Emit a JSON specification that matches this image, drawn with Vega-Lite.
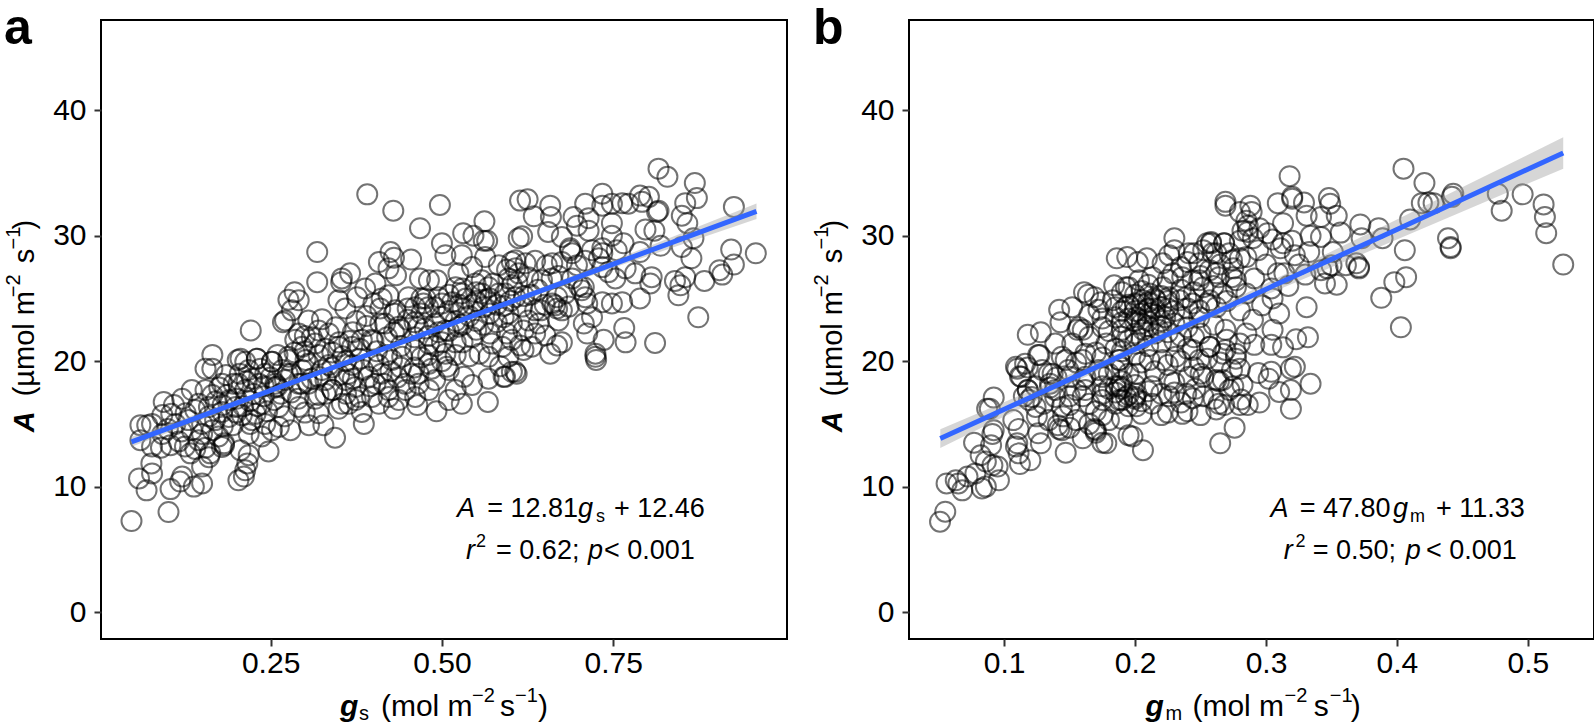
{"$schema":"https://vega.github.io/schema/vega-lite/v6.json","background":"white","padding":{"left":2,"top":2,"right":2,"bottom":0},"bounds":"flush","spacing":122,
"config":{"view":{"stroke":"black","strokeWidth":2},"font":"Liberation Sans","axis":{"grid":false,"domain":false,"tickColor":"#333333","tickWidth":2,"tickSize":7,"labelColor":"black","labelFont":"Liberation Sans","labelFontSize":30,"title":null}},
"datasets":{
"fa":[{"x":0.047,"y":13.57,"lo":13.17,"hi":13.97},{"x":0.25,"y":17.66,"lo":17.44,"hi":17.88},{"x":0.5,"y":22.7,"lo":22.53,"hi":22.87},{"x":0.75,"y":27.74,"lo":27.44,"hi":28.04},{"x":0.959,"y":31.95,"lo":31.33,"hi":32.57}],
"fb":[{"x":0.0512,"y":13.83,"lo":13.08,"hi":14.58},{"x":0.15,"y":18.55,"lo":18.15,"hi":18.95},{"x":0.2,"y":20.95,"lo":20.67,"hi":21.23},{"x":0.25,"y":23.35,"lo":23.05,"hi":23.65},{"x":0.3,"y":25.74,"lo":25.29,"hi":26.19},{"x":0.4,"y":30.5,"lo":29.7,"hi":31.3},{"x":0.527,"y":36.6,"lo":35.35,"hi":37.85}],
"pa":[{"x":0.816,"y":35.35},{"x":0.829,"y":34.7},{"x":0.869,"y":34.2},{"x":0.872,"y":33.0},{"x":0.855,"y":32.6},{"x":0.85,"y":31.6},{"x":0.858,"y":31.0},{"x":0.926,"y":32.3},{"x":0.922,"y":28.9},{"x":0.958,"y":28.6},{"x":0.926,"y":27.7},{"x":0.905,"y":27.25},{"x":0.909,"y":26.9},{"x":0.883,"y":26.4},{"x":0.855,"y":26.7},{"x":0.84,"y":26.4},{"x":0.848,"y":26.05},{"x":0.845,"y":25.25},{"x":0.874,"y":23.5},{"x":0.811,"y":21.45},{"x":0.768,"y":21.5},{"x":0.766,"y":22.65},{"x":0.736,"y":21.7},{"x":0.724,"y":20.6},{"x":0.725,"y":20.1},{"x":0.724,"y":20.35},{"x":0.789,"y":25.0},{"x":0.804,"y":26.2},{"x":0.806,"y":26.7},{"x":0.864,"y":28.2},{"x":0.85,"y":29.1},{"x":0.867,"y":29.8},{"x":0.819,"y":29.2},{"x":0.81,"y":30.4},{"x":0.797,"y":30.5},{"x":0.814,"y":31.9},{"x":0.802,"y":33.1},{"x":0.789,"y":33.2},{"x":0.763,"y":32.6},{"x":0.734,"y":33.35},{"x":0.709,"y":32.55},{"x":0.734,"y":32.4},{"x":0.748,"y":32.55},{"x":0.772,"y":32.55},{"x":0.792,"y":32.7},{"x":0.816,"y":32.0},{"x":0.625,"y":32.9},{"x":0.658,"y":32.4},{"x":0.634,"y":31.55},{"x":0.659,"y":31.5},{"x":0.617,"y":29.95},{"x":0.655,"y":30.3},{"x":0.692,"y":31.5},{"x":0.714,"y":31.4},{"x":0.697,"y":30.8},{"x":0.748,"y":31.0},{"x":0.675,"y":29.9},{"x":0.714,"y":30.4},{"x":0.748,"y":30.0},{"x":0.765,"y":29.4},{"x":0.789,"y":28.7},{"x":0.687,"y":29.0},{"x":0.687,"y":28.85},{"x":0.69,"y":28.6},{"x":0.734,"y":29.0},{"x":0.734,"y":28.6},{"x":0.719,"y":28.85},{"x":0.729,"y":28.2},{"x":0.755,"y":28.85},{"x":0.661,"y":27.8},{"x":0.675,"y":27.9},{"x":0.697,"y":27.65},{"x":0.768,"y":27.4},{"x":0.782,"y":27.0},{"x":0.753,"y":26.6},{"x":0.734,"y":27.5},{"x":0.743,"y":27.1},{"x":0.709,"y":28.0},{"x":0.653,"y":27.65},{"x":0.602,"y":27.9},{"x":0.622,"y":27.8},{"x":0.636,"y":28.0},{"x":0.612,"y":27.0},{"x":0.626,"y":26.7},{"x":0.597,"y":26.6},{"x":0.607,"y":27.4},{"x":0.646,"y":26.45},{"x":0.668,"y":25.1},{"x":0.665,"y":24.45},{"x":0.668,"y":24.2},{"x":0.661,"y":24.6},{"x":0.675,"y":24.05},{"x":0.707,"y":25.9},{"x":0.709,"y":25.1},{"x":0.712,"y":24.6},{"x":0.734,"y":24.7},{"x":0.748,"y":24.6},{"x":0.763,"y":24.7},{"x":0.685,"y":24.35},{"x":0.704,"y":25.65},{"x":0.636,"y":24.05},{"x":0.617,"y":24.35},{"x":0.597,"y":23.8},{"x":0.719,"y":23.5},{"x":0.707,"y":23.0},{"x":0.712,"y":22.2},{"x":0.675,"y":21.5},{"x":0.651,"y":22.05},{"x":0.636,"y":22.2},{"x":0.614,"y":21.25},{"x":0.668,"y":21.25},{"x":0.658,"y":20.6},{"x":0.631,"y":21.15},{"x":0.619,"y":20.9},{"x":0.597,"y":20.35},{"x":0.609,"y":19.0},{"x":0.592,"y":18.75},{"x":0.602,"y":19.15},{"x":0.644,"y":24.05},{"x":0.592,"y":25.4},{"x":0.607,"y":25.1},{"x":0.626,"y":23.25},{"x":0.602,"y":23.0},{"x":0.641,"y":23.0},{"x":0.67,"y":23.25},{"x":0.595,"y":22.2},{"x":0.619,"y":22.45},
{"x":0.391,"y":33.3},{"x":0.429,"y":32.0},{"x":0.497,"y":32.45},{"x":0.468,"y":30.6},{"x":0.318,"y":28.7},{"x":0.318,"y":26.3},{"x":0.5,"y":29.4},{"x":0.562,"y":31.15},{"x":0.531,"y":30.2},{"x":0.546,"y":30.0},{"x":0.561,"y":29.6},{"x":0.566,"y":29.6},{"x":0.505,"y":28.45},{"x":0.529,"y":28.45},{"x":0.425,"y":28.7},{"x":0.43,"y":28.25},{"x":0.408,"y":27.9},{"x":0.455,"y":28.1},{"x":0.422,"y":27.4},{"x":0.433,"y":26.85},{"x":0.366,"y":27.0},{"x":0.353,"y":26.3},{"x":0.354,"y":26.6},{"x":0.285,"y":25.5},{"x":0.276,"y":24.9},{"x":0.291,"y":24.85},{"x":0.281,"y":24.05},{"x":0.268,"y":23.1},{"x":0.271,"y":23.25},{"x":0.221,"y":22.45},{"x":0.325,"y":23.35},{"x":0.305,"y":23.25},{"x":0.349,"y":24.85},{"x":0.359,"y":24.2},{"x":0.376,"y":25.1},{"x":0.388,"y":25.8},{"x":0.403,"y":26.2},{"x":0.412,"y":25.0},{"x":0.4,"y":24.6},{"x":0.422,"y":25.25},{"x":0.451,"y":25.1},{"x":0.468,"y":26.6},{"x":0.481,"y":26.45},{"x":0.493,"y":26.45},{"x":0.524,"y":27.0},{"x":0.544,"y":27.5},{"x":0.563,"y":28.3},{"x":0.583,"y":27.65},{"x":0.607,"y":28.05},{"x":0.614,"y":32.8},{"x":0.612,"y":29.8},{"x":0.476,"y":25.0},{"x":0.495,"y":25.1},{"x":0.473,"y":24.6},{"x":0.558,"y":26.45},{"x":0.568,"y":25.9},{"x":0.549,"y":26.2},{"x":0.558,"y":25.4},{"x":0.529,"y":25.4},{"x":0.52,"y":25.9},{"x":0.583,"y":25.4},{"x":0.602,"y":26.05},{"x":0.461,"y":24.3},{"x":0.432,"y":24.05},{"x":0.417,"y":23.0},{"x":0.437,"y":22.75},{"x":0.383,"y":21.7},{"x":0.369,"y":21.15},{"x":0.398,"y":21.7},{"x":0.349,"y":21.15},{"x":0.335,"y":22.2},{"x":0.32,"y":22.45},{"x":0.291,"y":22.2},{"x":0.286,"y":21.7},{"x":0.31,"y":21.9},{"x":0.296,"y":21.15},{"x":0.276,"y":20.1},{"x":0.252,"y":19.95},{"x":0.23,"y":20.2},{"x":0.213,"y":19.95},{"x":0.305,"y":19.8},{"x":0.325,"y":19.3},{"x":0.296,"y":19.3},{"x":0.305,"y":18.2},{"x":0.271,"y":18.5},{"x":0.242,"y":19.0},{"x":0.223,"y":18.6},{"x":0.257,"y":17.95},{"x":0.34,"y":17.7},{"x":0.33,"y":17.4},{"x":0.364,"y":19.0},{"x":0.374,"y":17.95},{"x":0.393,"y":18.75},{"x":0.412,"y":19.0},{"x":0.427,"y":20.1},{"x":0.442,"y":20.35},{"x":0.461,"y":20.9},{"x":0.481,"y":21.4},{"x":0.505,"y":22.45},{"x":0.5,"y":23.55},{"x":0.524,"y":22.75},{"x":0.544,"y":21.9},{"x":0.573,"y":21.4},{"x":0.568,"y":20.35},{"x":0.588,"y":21.15},{"x":0.602,"y":21.7},{"x":0.507,"y":19.55},{"x":0.51,"y":19.3},{"x":0.532,"y":18.75},{"x":0.568,"y":18.6},{"x":0.544,"y":18.1},{"x":0.59,"y":18.75},{"x":0.607,"y":19.15},{"x":0.52,"y":17.7},{"x":0.567,"y":16.75},{"x":0.49,"y":18.5},{"x":0.466,"y":19.0},{"x":0.481,"y":17.7},{"x":0.446,"y":18.2},{"x":0.422,"y":17.7},{"x":0.398,"y":17.15},{"x":0.374,"y":16.9},{"x":0.354,"y":16.6},{"x":0.437,"y":16.9},{"x":0.461,"y":17.15},{"x":0.51,"y":16.9},{"x":0.529,"y":16.6},
{"x":0.047,"y":7.25},{"x":0.101,"y":7.97},{"x":0.058,"y":10.65},{"x":0.077,"y":11.05},{"x":0.069,"y":9.7},{"x":0.076,"y":11.85},{"x":0.104,"y":9.8},{"x":0.118,"y":10.4},{"x":0.121,"y":10.8},{"x":0.138,"y":10.0},{"x":0.15,"y":10.25},{"x":0.133,"y":12.65},{"x":0.15,"y":11.6},{"x":0.16,"y":12.35},{"x":0.203,"y":10.5},{"x":0.211,"y":10.8},{"x":0.213,"y":11.3},{"x":0.216,"y":11.85},{"x":0.218,"y":12.5},{"x":0.247,"y":12.8},{"x":0.206,"y":12.9},{"x":0.182,"y":13.3},{"x":0.179,"y":13.15},{"x":0.104,"y":13.3},{"x":0.077,"y":13.2},{"x":0.06,"y":13.7},{"x":0.092,"y":14.2},{"x":0.116,"y":13.6},{"x":0.06,"y":14.9},{"x":0.077,"y":15.0},{"x":0.07,"y":14.9},{"x":0.094,"y":16.75},{"x":0.109,"y":16.5},{"x":0.092,"y":15.7},{"x":0.121,"y":17.0},{"x":0.135,"y":17.7},{"x":0.155,"y":17.7},{"x":0.165,"y":20.5},{"x":0.155,"y":19.4},{"x":0.165,"y":19.4},{"x":0.202,"y":20.1},{"x":0.206,"y":20.2},{"x":0.23,"y":20.2},{"x":0.252,"y":19.95},{"x":0.203,"y":18.2},{"x":0.196,"y":18.2},{"x":0.179,"y":18.2},{"x":0.165,"y":17.3},{"x":0.14,"y":16.1},{"x":0.16,"y":16.35},{"x":0.126,"y":15.85},{"x":0.111,"y":15.0},{"x":0.135,"y":14.5},{"x":0.15,"y":15.0},{"x":0.169,"y":15.3},{"x":0.189,"y":15.55},{"x":0.208,"y":15.7},{"x":0.223,"y":15.3},{"x":0.242,"y":15.0},{"x":0.252,"y":14.5},{"x":0.279,"y":14.5},{"x":0.306,"y":14.9},{"x":0.327,"y":14.9},{"x":0.344,"y":13.9},{"x":0.386,"y":15.0},{"x":0.492,"y":16.0},{"x":0.464,"y":16.5},{"x":0.43,"y":16.2},{"x":0.408,"y":16.6},{"x":0.383,"y":15.95},{"x":0.364,"y":16.6},{"x":0.349,"y":16.2},{"x":0.32,"y":15.85},{"x":0.315,"y":17.0},{"x":0.291,"y":16.35},{"x":0.262,"y":16.35},{"x":0.237,"y":16.6},{"x":0.213,"y":17.7},{"x":0.233,"y":18.2},{"x":0.257,"y":18.2},{"x":0.276,"y":20.35},{"x":0.291,"y":18.2},{"x":0.32,"y":18.75},{"x":0.34,"y":17.7},{"x":0.359,"y":18.5},{"x":0.379,"y":17.15},{"x":0.403,"y":18.2},{"x":0.422,"y":17.15},{"x":0.447,"y":17.7},{"x":0.466,"y":18.2},{"x":0.481,"y":19.8},{"x":0.408,"y":19.7},{"x":0.369,"y":19.7},{"x":0.335,"y":19.7},{"x":0.301,"y":20.1},{"x":0.267,"y":19.3},{"x":0.218,"y":19.3},{"x":0.186,"y":17.3},{"x":0.179,"y":15.95},{"x":0.199,"y":16.35},{"x":0.174,"y":14.0},{"x":0.182,"y":13.45},{"x":0.145,"y":13.7},{"x":0.162,"y":12.65},{"x":0.218,"y":14.2},{"x":0.237,"y":14.0},{"x":0.262,"y":14.75},{"x":0.228,"y":15.8},
{"x":0.44,"y":22.5},{"x":0.46,"y":23.1},{"x":0.47,"y":23.8},{"x":0.48,"y":22.0},{"x":0.49,"y":23.0},{"x":0.5,"y":21.5},{"x":0.51,"y":24.0},{"x":0.52,"y":23.2},{"x":0.53,"y":24.2},{"x":0.54,"y":23.6},{"x":0.55,"y":24.8},{"x":0.56,"y":24.3},{"x":0.57,"y":23.8},{"x":0.58,"y":24.5},{"x":0.55,"y":22.5},{"x":0.53,"y":21.5},{"x":0.52,"y":20.5},{"x":0.5,"y":20.0},{"x":0.48,"y":20.5},{"x":0.46,"y":19.5},{"x":0.44,"y":19.5},{"x":0.42,"y":20.5},{"x":0.4,"y":20.0},{"x":0.38,"y":20.2},{"x":0.36,"y":20.0},{"x":0.34,"y":19.5},{"x":0.32,"y":20.5},{"x":0.3,"y":20.8},{"x":0.33,"y":21.0},{"x":0.35,"y":21.5},{"x":0.37,"y":22.3},{"x":0.39,"y":22.8},{"x":0.41,"y":23.0},{"x":0.43,"y":23.8},{"x":0.45,"y":24.2},{"x":0.47,"y":25.0},{"x":0.49,"y":24.3},{"x":0.51,"y":25.3},{"x":0.53,"y":25.8},{"x":0.55,"y":25.5},{"x":0.57,"y":25.0},{"x":0.59,"y":23.5},{"x":0.28,"y":19.0},{"x":0.26,"y":18.0},{"x":0.24,"y":17.2},{"x":0.22,"y":16.8},{"x":0.2,"y":17.0},{"x":0.18,"y":16.5},
{"x":0.09,"y":13.1},{"x":0.1,"y":14.6},{"x":0.105,"y":15.8},{"x":0.12,"y":14.4},{"x":0.125,"y":13.2},{"x":0.13,"y":15.3},{"x":0.14,"y":13.0},{"x":0.145,"y":16.6},{"x":0.15,"y":14.2},{"x":0.155,"y":13.1},{"x":0.16,"y":15.6},{"x":0.165,"y":14.5},{"x":0.17,"y":16.8},{"x":0.175,"y":17.9},{"x":0.18,"y":14.8},{"x":0.185,"y":18.9},{"x":0.19,"y":16.9},{"x":0.195,"y":14.9},{"x":0.2,"y":15.9},{"x":0.205,"y":19.0},{"x":0.21,"y":16.4},{"x":0.215,"y":18.4},{"x":0.22,"y":15.0},{"x":0.225,"y":17.4},{"x":0.23,"y":16.4},{"x":0.235,"y":19.4},{"x":0.24,"y":18.0},{"x":0.245,"y":16.0},{"x":0.25,"y":18.7},{"x":0.255,"y":16.9},{"x":0.26,"y":20.5},{"x":0.265,"y":17.4},{"x":0.27,"y":15.6},{"x":0.275,"y":19.0},{"x":0.28,"y":17.5},{"x":0.285,"y":20.7},{"x":0.29,"y":17.0},{"x":0.295,"y":18.2},{"x":0.3,"y":15.9},{"x":0.3,"y":22.0},{"x":0.31,"y":18.6},{"x":0.315,"y":21.4},{"x":0.32,"y":17.3},{"x":0.33,"y":18.5},{"x":0.34,"y":20.7},{"x":0.345,"y":22.7},{"x":0.35,"y":18.9},{"x":0.355,"y":20.4},{"x":0.36,"y":17.4},{"x":0.365,"y":21.6},{"x":0.37,"y":18.6},{"x":0.375,"y":23.2},{"x":0.38,"y":21.0},{"x":0.385,"y":19.3},{"x":0.39,"y":23.6},{"x":0.395,"y":18.0},{"x":0.4,"y":21.6},{"x":0.405,"y":20.8},{"x":0.41,"y":24.2},{"x":0.415,"y":18.2},{"x":0.42,"y":21.9},{"x":0.425,"y":19.2},{"x":0.43,"y":22.3},{"x":0.435,"y":18.7},{"x":0.44,"y":21.2},{"x":0.45,"y":23.3},{"x":0.455,"y":19.0},{"x":0.46,"y":21.9},{"x":0.465,"y":22.7},{"x":0.47,"y":20.3},{"x":0.475,"y":22.6},{"x":0.48,"y":24.3},{"x":0.485,"y":19.4},{"x":0.49,"y":21.2},{"x":0.495,"y":22.3},{"x":0.5,"y":24.6},{"x":0.505,"y":20.6},{"x":0.51,"y":22.4},{"x":0.515,"y":24.7},{"x":0.52,"y":21.5},{"x":0.525,"y":24.5},{"x":0.53,"y":22.9},{"x":0.535,"y":25.0},{"x":0.54,"y":20.4},{"x":0.545,"y":24.5},{"x":0.55,"y":23.2},{"x":0.555,"y":20.6},{"x":0.56,"y":22.9},{"x":0.565,"y":24.9},{"x":0.57,"y":22.2},{"x":0.575,"y":26.2},{"x":0.58,"y":23.1},{"x":0.585,"y":19.6},{"x":0.59,"y":24.4},{"x":0.595,"y":27.3},{"x":0.6,"y":24.8},{"x":0.61,"y":26.3},{"x":0.62,"y":25.2},{"x":0.63,"y":25.3},{"x":0.64,"y":25.7},{"x":0.65,"y":24.5},{"x":0.66,"y":26.6},{"x":0.67,"y":26.8},{"x":0.68,"y":25.4},{"x":0.69,"y":26.6},{"x":0.7,"y":26.0}],
"pb":[{"x":0.051,"y":7.2},{"x":0.055,"y":8.0},{"x":0.056,"y":10.25},{"x":0.063,"y":10.5},{"x":0.065,"y":10.25},{"x":0.068,"y":9.7},{"x":0.072,"y":10.8},{"x":0.078,"y":11.05},{"x":0.083,"y":9.85},{"x":0.086,"y":10.0},{"x":0.096,"y":10.5},{"x":0.095,"y":11.6},{"x":0.091,"y":11.7},{"x":0.086,"y":12.0},{"x":0.082,"y":12.5},{"x":0.077,"y":13.5},{"x":0.09,"y":13.3},{"x":0.091,"y":14.2},{"x":0.092,"y":14.5},{"x":0.092,"y":17.1},{"x":0.089,"y":16.2},{"x":0.087,"y":16.2},{"x":0.11,"y":19.4},{"x":0.118,"y":19.5},{"x":0.112,"y":18.8},{"x":0.126,"y":20.5},{"x":0.118,"y":17.7},{"x":0.121,"y":17.15},{"x":0.124,"y":16.35},{"x":0.111,"y":14.6},{"x":0.107,"y":15.3},{"x":0.11,"y":13.45},{"x":0.109,"y":13.2},{"x":0.111,"y":12.65},{"x":0.112,"y":11.8},{"x":0.12,"y":12.1},{"x":0.126,"y":14.25},{"x":0.128,"y":13.45},{"x":0.147,"y":12.7},{"x":0.141,"y":14.9},{"x":0.142,"y":14.6},{"x":0.144,"y":14.5},{"x":0.16,"y":13.85},{"x":0.17,"y":14.5},{"x":0.169,"y":14.6},{"x":0.178,"y":13.45},{"x":0.175,"y":15.7},{"x":0.195,"y":14.1},{"x":0.198,"y":14.0},{"x":0.206,"y":12.9},{"x":0.134,"y":19.0},{"x":0.144,"y":20.35},{"x":0.135,"y":18.2},{"x":0.139,"y":17.15},{"x":0.144,"y":16.35},{"x":0.155,"y":17.7},{"x":0.162,"y":17.7},{"x":0.149,"y":19.3},{"x":0.16,"y":20.1},{"x":0.172,"y":19.3},{"x":0.185,"y":18.0},{"x":0.188,"y":20.1},{"x":0.2,"y":17.15},{"x":0.193,"y":17.15},{"x":0.185,"y":16.6},{"x":0.155,"y":15.3},{"x":0.134,"y":15.3},{"x":0.175,"y":17.4},{"x":0.165,"y":16.6},
{"x":0.118,"y":22.1},{"x":0.128,"y":22.3},{"x":0.109,"y":19.55},{"x":0.116,"y":19.8},{"x":0.113,"y":18.75},{"x":0.118,"y":17.7},{"x":0.115,"y":17.2},{"x":0.127,"y":20.5},{"x":0.139,"y":21.4},{"x":0.142,"y":24.1},{"x":0.152,"y":24.3},{"x":0.143,"y":23.1},{"x":0.161,"y":25.5},{"x":0.164,"y":25.3},{"x":0.156,"y":22.5},{"x":0.157,"y":22.7},{"x":0.169,"y":25.1},{"x":0.174,"y":24.7},{"x":0.172,"y":24.1},{"x":0.184,"y":26.05},{"x":0.186,"y":28.2},{"x":0.194,"y":28.3},{"x":0.202,"y":27.9},{"x":0.209,"y":28.2},{"x":0.23,"y":29.8},{"x":0.226,"y":28.45},{"x":0.23,"y":28.85},{"x":0.221,"y":27.8},{"x":0.245,"y":28.6},{"x":0.255,"y":29.4},{"x":0.258,"y":29.5},{"x":0.268,"y":29.4},{"x":0.252,"y":28.85},{"x":0.262,"y":28.6},{"x":0.272,"y":28.6},{"x":0.28,"y":28.2},{"x":0.282,"y":30.4},{"x":0.257,"y":27.25},{"x":0.264,"y":26.7},{"x":0.274,"y":26.7},{"x":0.249,"y":26.45},{"x":0.236,"y":26.7},{"x":0.229,"y":27.0},{"x":0.213,"y":26.7},{"x":0.203,"y":26.45},{"x":0.193,"y":25.9},{"x":0.183,"y":24.85},{"x":0.193,"y":24.3},{"x":0.206,"y":24.85},{"x":0.216,"y":24.85},{"x":0.226,"y":25.1},{"x":0.211,"y":25.4},{"x":0.221,"y":25.9},{"x":0.234,"y":24.85},{"x":0.244,"y":24.6},{"x":0.257,"y":24.85},{"x":0.267,"y":25.4},{"x":0.277,"y":25.9},{"x":0.185,"y":23.5},{"x":0.201,"y":23.5},{"x":0.211,"y":23.8},{"x":0.223,"y":23.5},{"x":0.236,"y":23.5},{"x":0.249,"y":23.5},{"x":0.19,"y":22.5},{"x":0.206,"y":22.5},{"x":0.218,"y":22.5},{"x":0.175,"y":22.7},{"x":0.165,"y":21.95},{"x":0.178,"y":21.4},{"x":0.19,"y":21.95},{"x":0.152,"y":21.4},{"x":0.147,"y":20.1},{"x":0.162,"y":20.6},{"x":0.175,"y":20.3},{"x":0.188,"y":20.1},{"x":0.15,"y":18.75},{"x":0.137,"y":19.0},{"x":0.129,"y":19.3},{"x":0.124,"y":18.0},{"x":0.119,"y":16.9},{"x":0.139,"y":17.7},{"x":0.162,"y":18.75},{"x":0.175,"y":18.75},{"x":0.188,"y":18.0},{"x":0.201,"y":19.0},{"x":0.211,"y":20.1},{"x":0.221,"y":20.1},{"x":0.231,"y":20.35},{"x":0.244,"y":20.9},{"x":0.257,"y":21.15},{"x":0.267,"y":20.6},{"x":0.277,"y":20.6},{"x":0.274,"y":19.3},{"x":0.262,"y":18.5},{"x":0.252,"y":18.75},{"x":0.241,"y":18.75},{"x":0.226,"y":18.5},{"x":0.213,"y":18.0},{"x":0.201,"y":17.4},{"x":0.188,"y":16.9},{"x":0.175,"y":16.9},{"x":0.16,"y":17.2},{"x":0.15,"y":17.2},{"x":0.226,"y":17.2},{"x":0.239,"y":17.4},{"x":0.252,"y":17.2},{"x":0.264,"y":16.6},{"x":0.272,"y":17.7},{"x":0.213,"y":16.6},{"x":0.201,"y":16.4},
{"x":0.2,"y":24.0},{"x":0.205,"y":24.5},{"x":0.21,"y":24.2},{"x":0.215,"y":23.7},{"x":0.22,"y":24.3},{"x":0.21,"y":23.2},{"x":0.205,"y":23.0},{"x":0.195,"y":24.5},{"x":0.19,"y":24.0},{"x":0.215,"y":25.0},{"x":0.2,"y":25.3},{"x":0.19,"y":25.5},{"x":0.225,"y":24.2},{"x":0.23,"y":23.0},{"x":0.22,"y":22.8},{"x":0.2,"y":22.2},{"x":0.195,"y":21.7},{"x":0.185,"y":21.0},{"x":0.19,"y":17.8},{"x":0.195,"y":17.3},{"x":0.2,"y":17.0},{"x":0.185,"y":17.5},{"x":0.19,"y":16.9},{"x":0.175,"y":18.0},{"x":0.205,"y":16.8},{"x":0.18,"y":19.0},{"x":0.19,"y":19.5},{"x":0.2,"y":20.5},
{"x":0.318,"y":34.75},{"x":0.405,"y":35.35},{"x":0.421,"y":34.2},{"x":0.443,"y":33.35},{"x":0.442,"y":33.1},{"x":0.477,"y":33.35},{"x":0.48,"y":32.0},{"x":0.496,"y":33.3},{"x":0.512,"y":32.5},{"x":0.513,"y":31.5},{"x":0.514,"y":30.2},{"x":0.527,"y":27.7},{"x":0.419,"y":32.6},{"x":0.424,"y":32.65},{"x":0.428,"y":32.6},{"x":0.41,"y":31.3},{"x":0.439,"y":29.8},{"x":0.441,"y":29.1},{"x":0.441,"y":29.0},{"x":0.406,"y":28.85},{"x":0.407,"y":26.7},{"x":0.398,"y":26.3},{"x":0.388,"y":25.05},{"x":0.403,"y":22.7},{"x":0.331,"y":24.3},{"x":0.372,"y":30.9},{"x":0.386,"y":30.6},{"x":0.373,"y":29.8},{"x":0.389,"y":29.8},{"x":0.357,"y":30.25},{"x":0.348,"y":33.0},{"x":0.349,"y":32.55},{"x":0.354,"y":31.6},{"x":0.342,"y":31.5},{"x":0.331,"y":31.6},{"x":0.329,"y":32.65},{"x":0.32,"y":33.1},{"x":0.32,"y":32.95},{"x":0.309,"y":32.6},{"x":0.269,"y":32.7},{"x":0.269,"y":32.4},{"x":0.28,"y":31.9},{"x":0.288,"y":32.4},{"x":0.289,"y":31.9},{"x":0.285,"y":31.2},{"x":0.286,"y":30.8},{"x":0.286,"y":30.3},{"x":0.301,"y":30.2},{"x":0.313,"y":31.0},{"x":0.334,"y":30.0},{"x":0.342,"y":29.9},{"x":0.333,"y":28.7},{"x":0.32,"y":29.6},{"x":0.313,"y":29.4},{"x":0.311,"y":29.0},{"x":0.322,"y":28.45},{"x":0.294,"y":28.85},{"x":0.351,"y":28.7},{"x":0.35,"y":27.65},{"x":0.342,"y":27.25},{"x":0.347,"y":27.4},{"x":0.361,"y":27.65},{"x":0.369,"y":27.8},{"x":0.371,"y":27.5},{"x":0.371,"y":27.4},{"x":0.345,"y":26.2},{"x":0.354,"y":26.1},{"x":0.317,"y":26.0},{"x":0.309,"y":27.0},{"x":0.314,"y":27.0},{"x":0.304,"y":25.8},{"x":0.305,"y":25.0},{"x":0.297,"y":24.45},{"x":0.291,"y":26.6},{"x":0.285,"y":25.4},{"x":0.28,"y":24.05},{"x":0.29,"y":23.3},{"x":0.305,"y":22.5},{"x":0.323,"y":21.75},{"x":0.332,"y":21.9},{"x":0.313,"y":21.1},{"x":0.304,"y":21.3},{"x":0.291,"y":21.3},{"x":0.28,"y":21.4},{"x":0.269,"y":20.9},{"x":0.277,"y":20.2},{"x":0.294,"y":19.05},{"x":0.304,"y":19.15},{"x":0.302,"y":18.6},{"x":0.322,"y":19.55},{"x":0.319,"y":19.4},{"x":0.334,"y":18.2},{"x":0.31,"y":17.55},{"x":0.319,"y":17.7},{"x":0.319,"y":16.2},{"x":0.295,"y":16.7},{"x":0.286,"y":16.5},{"x":0.28,"y":16.5},{"x":0.281,"y":16.95},{"x":0.282,"y":18.1},{"x":0.267,"y":18.5},{"x":0.264,"y":18.4},{"x":0.262,"y":16.15},{"x":0.268,"y":16.5},{"x":0.25,"y":15.7},{"x":0.276,"y":14.7},{"x":0.265,"y":13.45},{"x":0.246,"y":17.8},{"x":0.244,"y":17.05},{"x":0.236,"y":15.8},{"x":0.249,"y":20.1},{"x":0.257,"y":21.15},{"x":0.269,"y":22.5},{"x":0.262,"y":24.3},{"x":0.249,"y":24.05},{"x":0.252,"y":25.9},{"x":0.262,"y":27.0},{"x":0.274,"y":28.05},{"x":0.277,"y":26.45},{"x":0.258,"y":29.4},{"x":0.268,"y":29.4},{"x":0.259,"y":28.6},{"x":0.285,"y":28.3},{"x":0.249,"y":27.8},{"x":0.244,"y":26.45},{"x":0.241,"y":28.6},{"x":0.239,"y":25.1},
{"x":0.17,"y":14.3},{"x":0.175,"y":13.5},{"x":0.24,"y":21.0},{"x":0.25,"y":19.0},{"x":0.26,"y":17.0},{"x":0.23,"y":17.5},{"x":0.24,"y":16.0},{"x":0.22,"y":15.7},{"x":0.245,"y":19.5},{"x":0.235,"y":22.0},
{"x":0.125,"y":15.6},{"x":0.13,"y":16.6},{"x":0.135,"y":17.9},{"x":0.14,"y":18.7},{"x":0.145,"y":15.6},{"x":0.15,"y":14.7},{"x":0.15,"y":16.5},{"x":0.155,"y":19.9},{"x":0.16,"y":18.5},{"x":0.16,"y":22.5},{"x":0.165,"y":15.0},{"x":0.165,"y":23.7},{"x":0.17,"y":16.0},{"x":0.17,"y":20.7},{"x":0.175,"y":23.4},{"x":0.18,"y":15.3},{"x":0.18,"y":17.8},{"x":0.18,"y":22.4},{"x":0.185,"y":19.3},{"x":0.185,"y":24.3},{"x":0.19,"y":15.4},{"x":0.19,"y":18.4},{"x":0.19,"y":20.8},{"x":0.19,"y":23.1},{"x":0.195,"y":16.4},{"x":0.195,"y":19.0},{"x":0.195,"y":23.4},{"x":0.195,"y":25.9},{"x":0.2,"y":18.1},{"x":0.2,"y":21.4},{"x":0.2,"y":23.2},{"x":0.2,"y":24.6},{"x":0.205,"y":15.8},{"x":0.205,"y":19.9},{"x":0.205,"y":21.8},{"x":0.205,"y":23.8},{"x":0.205,"y":25.6},{"x":0.21,"y":17.6},{"x":0.21,"y":21.2},{"x":0.21,"y":22.8},{"x":0.21,"y":24.7},{"x":0.21,"y":26.1},{"x":0.215,"y":19.2},{"x":0.215,"y":22.2},{"x":0.215,"y":24.2},{"x":0.22,"y":17.4},{"x":0.22,"y":21.5},{"x":0.22,"y":23.2},{"x":0.22,"y":25.2},{"x":0.225,"y":15.9},{"x":0.225,"y":19.7},{"x":0.225,"y":22.3},{"x":0.225,"y":24.8},{"x":0.225,"y":26.5},{"x":0.23,"y":18.3},{"x":0.23,"y":21.6},{"x":0.23,"y":24.0},{"x":0.235,"y":16.7},{"x":0.235,"y":20.0},{"x":0.235,"y":25.7},{"x":0.235,"y":27.5},{"x":0.24,"y":22.7},{"x":0.24,"y":24.2},{"x":0.24,"y":27.9},{"x":0.245,"y":21.9},{"x":0.245,"y":25.5},{"x":0.25,"y":22.2},{"x":0.25,"y":26.8},{"x":0.255,"y":20.2},{"x":0.255,"y":24.6},{"x":0.26,"y":22.9},{"x":0.26,"y":26.0},{"x":0.265,"y":19.9},{"x":0.265,"y":27.7},{"x":0.27,"y":21.7},{"x":0.27,"y":24.8},{"x":0.275,"y":18.0},{"x":0.275,"y":27.4},{"x":0.28,"y":19.4},{"x":0.28,"y":29.6},{"x":0.285,"y":22.2},{"x":0.29,"y":29.8},{"x":0.295,"y":30.6},{"x":0.3,"y":27.7},{"x":0.305,"y":29.7},{"x":0.31,"y":23.8},{"x":0.325,"y":27.7},{"x":0.33,"y":26.9}]},
"hconcat":[
{"width":686,"height":619,"data":{"values":[{}]},"layer":[
{"data":{"name":"pa"},"mark":{"type":"point","shape":"circle","filled":false,"size":400,"stroke":"black","strokeOpacity":0.78,"strokeWidth":2},"encoding":{"x":{"field":"x","type":"quantitative","scale":{"domain":[0.0025,1.0035],"nice":false},"axis":{"values":[0.25,0.5,0.75],"format":".2f","labelPadding":2}},"y":{"field":"y","type":"quantitative","scale":{"domain":[-2.15,47.2],"nice":false},"axis":{"values":[0,10,20,30,40],"labelPadding":8}}}},
{"data":{"name":"fa"},"mark":{"type":"area","color":"#999999","opacity":0.4},"encoding":{"x":{"field":"x","type":"quantitative"},"y":{"field":"lo","type":"quantitative"},"y2":{"field":"hi"}}},
{"data":{"name":"fa"},"mark":{"type":"line","color":"#3366FF","strokeWidth":5},"encoding":{"x":{"field":"x","type":"quantitative"},"y":{"field":"y","type":"quantitative"}}},
{"mark":{"type":"text","text":"a","font":"Liberation Sans","fontWeight":"bold","fontSize":50,"align":"left","baseline":"alphabetic","color":"black"},"encoding":{"x":{"datum":-0.139},"y":{"datum":45.3}}},
{"mark":{"type":"text","text":"A","font":"Liberation Sans","fontStyle":"italic","fontSize":27,"align":"left","baseline":"alphabetic","color":"black"},"encoding":{"x":{"datum":0.522},"y":{"datum":7.57}}},
{"mark":{"type":"text","text":"= 12.81","font":"Liberation Sans","fontSize":27,"align":"left","baseline":"alphabetic","color":"black"},"encoding":{"x":{"datum":0.566},"y":{"datum":7.57}}},
{"mark":{"type":"text","text":"g","font":"Liberation Sans","fontStyle":"italic","fontSize":27,"align":"left","baseline":"alphabetic","color":"black"},"encoding":{"x":{"datum":0.6986},"y":{"datum":7.57}}},
{"mark":{"type":"text","text":"s","font":"Liberation Sans","fontSize":18,"align":"left","baseline":"alphabetic","color":"black"},"encoding":{"x":{"datum":0.7248},"y":{"datum":7.2}}},
{"mark":{"type":"text","text":"+ 12.46","font":"Liberation Sans","fontSize":27,"align":"left","baseline":"alphabetic","color":"black"},"encoding":{"x":{"datum":0.751},"y":{"datum":7.57}}},
{"mark":{"type":"text","text":"r","font":"Liberation Sans","fontStyle":"italic","fontSize":27,"align":"left","baseline":"alphabetic","color":"black"},"encoding":{"x":{"datum":0.535},"y":{"datum":4.22}}},
{"mark":{"type":"text","text":"2","font":"Liberation Sans","fontSize":18,"align":"left","baseline":"alphabetic","color":"black"},"encoding":{"x":{"datum":0.5497},"y":{"datum":5.18}}},
{"mark":{"type":"text","text":"= 0.62;","font":"Liberation Sans","fontSize":27,"align":"left","baseline":"alphabetic","color":"black"},"encoding":{"x":{"datum":0.579},"y":{"datum":4.22}}},
{"mark":{"type":"text","text":"p","font":"Liberation Sans","fontStyle":"italic","fontSize":27,"align":"left","baseline":"alphabetic","color":"black"},"encoding":{"x":{"datum":0.7131},"y":{"datum":4.22}}},
{"mark":{"type":"text","text":"< 0.001","font":"Liberation Sans","fontSize":27,"align":"left","baseline":"alphabetic","color":"black"},"encoding":{"x":{"datum":0.7365},"y":{"datum":4.22}}},
{"mark":{"type":"text","text":"g","font":"Liberation Sans","fontWeight":"bold","fontStyle":"italic","fontSize":30,"align":"left","baseline":"alphabetic","color":"black"},"encoding":{"x":{"datum":0.3513},"y":{"datum":-8.29}}},
{"mark":{"type":"text","text":"s","font":"Liberation Sans","fontSize":20,"align":"left","baseline":"alphabetic","color":"black"},"encoding":{"x":{"datum":0.379},"y":{"datum":-8.6}}},
{"mark":{"type":"text","text":"(mol m","font":"Liberation Sans","fontSize":30,"align":"left","baseline":"alphabetic","color":"black"},"encoding":{"x":{"datum":0.411},"y":{"datum":-8.29}}},
{"mark":{"type":"text","text":"−2","font":"Liberation Sans","fontSize":20,"align":"left","baseline":"alphabetic","color":"black"},"encoding":{"x":{"datum":0.5439},"y":{"datum":-7.17}}},
{"mark":{"type":"text","text":"s","font":"Liberation Sans","fontSize":30,"align":"left","baseline":"alphabetic","color":"black"},"encoding":{"x":{"datum":0.5847},"y":{"datum":-8.29}}},
{"mark":{"type":"text","text":"−1","font":"Liberation Sans","fontSize":20,"align":"left","baseline":"alphabetic","color":"black"},"encoding":{"x":{"datum":0.6066},"y":{"datum":-7.17}}},
{"mark":{"type":"text","text":")","font":"Liberation Sans","fontSize":30,"align":"left","baseline":"alphabetic","color":"black"},"encoding":{"x":{"datum":0.6402},"y":{"datum":-8.29}}},
{"mark":{"type":"text","text":"A","font":"Liberation Sans","fontWeight":"bold","fontStyle":"italic","fontSize":29,"angle":270,"align":"left","baseline":"alphabetic","color":"black"},"encoding":{"x":{"datum":-0.0953},"y":{"datum":14.34}}},
{"mark":{"type":"text","text":"(µmol m","font":"Liberation Sans","fontSize":29,"angle":270,"align":"left","baseline":"alphabetic","color":"black"},"encoding":{"x":{"datum":-0.0953},"y":{"datum":17.2}}},
{"mark":{"type":"text","text":"−2","font":"Liberation Sans","fontSize":20,"angle":270,"align":"left","baseline":"alphabetic","color":"black"},"encoding":{"x":{"datum":-0.1157},"y":{"datum":25.1}}},
{"mark":{"type":"text","text":"s","font":"Liberation Sans","fontSize":29,"angle":270,"align":"left","baseline":"alphabetic","color":"black"},"encoding":{"x":{"datum":-0.0953},"y":{"datum":27.8}}},
{"mark":{"type":"text","text":"−1","font":"Liberation Sans","fontSize":20,"angle":270,"align":"left","baseline":"alphabetic","color":"black"},"encoding":{"x":{"datum":-0.1157},"y":{"datum":28.9}}},
{"mark":{"type":"text","text":")","font":"Liberation Sans","fontSize":29,"angle":270,"align":"left","baseline":"alphabetic","color":"black"},"encoding":{"x":{"datum":-0.0953},"y":{"datum":30.5}}}
]},
{"width":685,"height":619,"data":{"values":[{}]},"layer":[
{"data":{"name":"pb"},"mark":{"type":"point","shape":"circle","filled":false,"size":400,"stroke":"black","strokeOpacity":0.78,"strokeWidth":2},"encoding":{"x":{"field":"x","type":"quantitative","scale":{"domain":[0.0273,0.5505],"nice":false},"axis":{"values":[0.1,0.2,0.3,0.4,0.5],"format":".1f","labelPadding":2}},"y":{"field":"y","type":"quantitative","scale":{"domain":[-2.15,47.2],"nice":false},"axis":{"values":[0,10,20,30,40],"labelPadding":8}}}},
{"data":{"name":"fb"},"mark":{"type":"area","color":"#999999","opacity":0.4},"encoding":{"x":{"field":"x","type":"quantitative"},"y":{"field":"lo","type":"quantitative"},"y2":{"field":"hi"}}},
{"data":{"name":"fb"},"mark":{"type":"line","color":"#3366FF","strokeWidth":5},"encoding":{"x":{"field":"x","type":"quantitative"},"y":{"field":"y","type":"quantitative"}}},
{"mark":{"type":"text","text":"b","font":"Liberation Sans","fontWeight":"bold","fontSize":50,"align":"left","baseline":"alphabetic","color":"black"},"encoding":{"x":{"datum":-0.046},"y":{"datum":45.3}}},
{"mark":{"type":"text","text":"A","font":"Liberation Sans","fontStyle":"italic","fontSize":27,"align":"left","baseline":"alphabetic","color":"black"},"encoding":{"x":{"datum":0.3035},"y":{"datum":7.57}}},
{"mark":{"type":"text","text":"= 47.80","font":"Liberation Sans","fontSize":27,"align":"left","baseline":"alphabetic","color":"black"},"encoding":{"x":{"datum":0.3257},"y":{"datum":7.57}}},
{"mark":{"type":"text","text":"g","font":"Liberation Sans","fontStyle":"italic","fontSize":27,"align":"left","baseline":"alphabetic","color":"black"},"encoding":{"x":{"datum":0.3969},"y":{"datum":7.57}}},
{"mark":{"type":"text","text":"m","font":"Liberation Sans","fontSize":18,"align":"left","baseline":"alphabetic","color":"black"},"encoding":{"x":{"datum":0.4099},"y":{"datum":7.2}}},
{"mark":{"type":"text","text":"+ 11.33","font":"Liberation Sans","fontSize":27,"align":"left","baseline":"alphabetic","color":"black"},"encoding":{"x":{"datum":0.4298},"y":{"datum":7.57}}},
{"mark":{"type":"text","text":"r","font":"Liberation Sans","fontStyle":"italic","fontSize":27,"align":"left","baseline":"alphabetic","color":"black"},"encoding":{"x":{"datum":0.3135},"y":{"datum":4.22}}},
{"mark":{"type":"text","text":"2","font":"Liberation Sans","fontSize":18,"align":"left","baseline":"alphabetic","color":"black"},"encoding":{"x":{"datum":0.3226},"y":{"datum":5.18}}},
{"mark":{"type":"text","text":"= 0.50;","font":"Liberation Sans","fontSize":27,"align":"left","baseline":"alphabetic","color":"black"},"encoding":{"x":{"datum":0.3356},"y":{"datum":4.22}}},
{"mark":{"type":"text","text":"p","font":"Liberation Sans","fontStyle":"italic","fontSize":27,"align":"left","baseline":"alphabetic","color":"black"},"encoding":{"x":{"datum":0.4068},"y":{"datum":4.22}}},
{"mark":{"type":"text","text":"< 0.001","font":"Liberation Sans","fontSize":27,"align":"left","baseline":"alphabetic","color":"black"},"encoding":{"x":{"datum":0.4221},"y":{"datum":4.22}}},
{"mark":{"type":"text","text":"g","font":"Liberation Sans","fontWeight":"bold","fontStyle":"italic","fontSize":30,"align":"left","baseline":"alphabetic","color":"black"},"encoding":{"x":{"datum":0.2079},"y":{"datum":-8.29}}},
{"mark":{"type":"text","text":"m","font":"Liberation Sans","fontSize":20,"align":"left","baseline":"alphabetic","color":"black"},"encoding":{"x":{"datum":0.2232},"y":{"datum":-8.6}}},
{"mark":{"type":"text","text":"(mol m","font":"Liberation Sans","fontSize":30,"align":"left","baseline":"alphabetic","color":"black"},"encoding":{"x":{"datum":0.2438},"y":{"datum":-8.29}}},
{"mark":{"type":"text","text":"−2","font":"Liberation Sans","fontSize":20,"align":"left","baseline":"alphabetic","color":"black"},"encoding":{"x":{"datum":0.3142},"y":{"datum":-7.17}}},
{"mark":{"type":"text","text":"s","font":"Liberation Sans","fontSize":30,"align":"left","baseline":"alphabetic","color":"black"},"encoding":{"x":{"datum":0.3364},"y":{"datum":-8.29}}},
{"mark":{"type":"text","text":"−1","font":"Liberation Sans","fontSize":20,"align":"left","baseline":"alphabetic","color":"black"},"encoding":{"x":{"datum":0.3487},"y":{"datum":-7.17}}},
{"mark":{"type":"text","text":")","font":"Liberation Sans","fontSize":30,"align":"left","baseline":"alphabetic","color":"black"},"encoding":{"x":{"datum":0.3647},"y":{"datum":-8.29}}},
{"mark":{"type":"text","text":"A","font":"Liberation Sans","fontWeight":"bold","fontStyle":"italic","fontSize":29,"angle":270,"align":"left","baseline":"alphabetic","color":"black"},"encoding":{"x":{"datum":-0.024},"y":{"datum":14.34}}},
{"mark":{"type":"text","text":"(µmol m","font":"Liberation Sans","fontSize":29,"angle":270,"align":"left","baseline":"alphabetic","color":"black"},"encoding":{"x":{"datum":-0.024},"y":{"datum":17.2}}},
{"mark":{"type":"text","text":"−2","font":"Liberation Sans","fontSize":20,"angle":270,"align":"left","baseline":"alphabetic","color":"black"},"encoding":{"x":{"datum":-0.0347},"y":{"datum":25.1}}},
{"mark":{"type":"text","text":"s","font":"Liberation Sans","fontSize":29,"angle":270,"align":"left","baseline":"alphabetic","color":"black"},"encoding":{"x":{"datum":-0.024},"y":{"datum":27.8}}},
{"mark":{"type":"text","text":"−1","font":"Liberation Sans","fontSize":20,"angle":270,"align":"left","baseline":"alphabetic","color":"black"},"encoding":{"x":{"datum":-0.0347},"y":{"datum":28.9}}},
{"mark":{"type":"text","text":")","font":"Liberation Sans","fontSize":29,"angle":270,"align":"left","baseline":"alphabetic","color":"black"},"encoding":{"x":{"datum":-0.024},"y":{"datum":30.5}}}
]}
]}
